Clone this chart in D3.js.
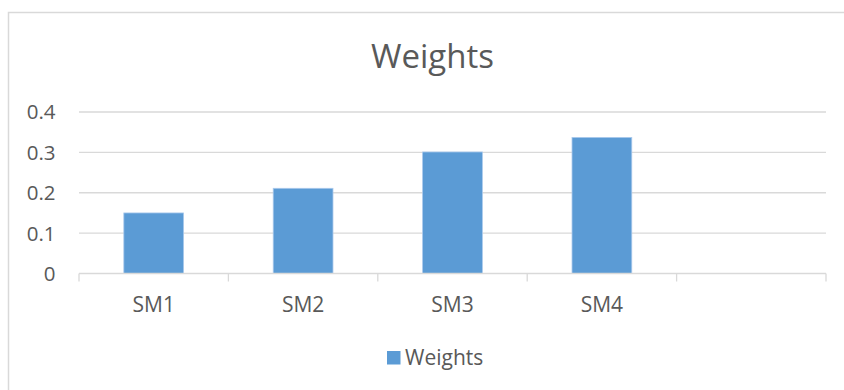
<!DOCTYPE html>
<html>
<head>
<meta charset="utf-8">
<script src="https://cdn.jsdelivr.net/npm/d3@7"></script>
<style>
  body { margin: 0; background: #fff; }
  text { font-family: "Open Sans", Lato, sans-serif; fill: #595959; }
</style>
</head>
<body>
<script>
// chart values
var categories = ["SM1", "SM2", "SM3", "SM4", ""];
var weights = [0.15, 0.211, 0.301, 0.337];
var yTicks = [0, 0.1, 0.2, 0.3, 0.4];
var seriesName = "Weights";
var chartTitle = "Weights";

var W = 844, H = 390;
var margin = {top: 112, right: 18, bottom: 116.5, left: 79},
    width = W - margin.left - margin.right,
    height = H - margin.top - margin.bottom;

var svg = d3.select("body").append("svg")
    .attr("width", W)
    .attr("height", H);

// outer chart frame (runs off the picture on the right and bottom)
svg.append("rect")
    .attr("x", 8.5).attr("y", 12.5)
    .attr("width", W + 20).attr("height", H + 20)
    .style("fill", "#fff")
    .style("stroke", "#d9d9d9")
    .style("stroke-width", 1.5);

svg.append("text")
    .attr("x", 432.5).attr("y", 68)
    .style("text-anchor", "middle")
    .style("font-size", "33px")
    .text(chartTitle);

var g = svg.append("g")
    .attr("transform", "translate(" + margin.left + "," + margin.top + ")");

var x = d3.scaleBand()
    .domain(categories.map(function(d, i) { return i; }))
    .range([0, width])
    .paddingInner(0.6)
    .paddingOuter(0.3);

var y = d3.scaleLinear()
    .domain([0, 0.4])
    .range([height, 0]);

// gridlines
g.selectAll(".grid")
    .data(yTicks.filter(function(d) { return d > 0; }))
  .enter().append("line")
    .attr("class", "grid")
    .attr("x1", 0).attr("x2", width)
    .attr("y1", function(d) { return y(d); })
    .attr("y2", function(d) { return y(d); })
    .style("stroke", "#d9d9d9")
    .style("stroke-width", 1.3);

// y labels
g.selectAll(".ylab")
    .data(yTicks)
  .enter().append("text")
    .attr("class", "ylab")
    .attr("x", -23.5)
    .attr("y", function(d) { return y(d); })
    .attr("dy", "0.36em")
    .style("text-anchor", "end")
    .style("font-size", "20.5px")
    .text(function(d) { return d === 0 ? "0" : d3.format(".1f")(d); });

// bars
g.selectAll(".bar")
    .data(weights)
  .enter().append("rect")
    .attr("class", "bar")
    .attr("x", function(d, i) { return x(i); })
    .attr("width", x.bandwidth())
    .attr("y", function(d) { return y(d); })
    .attr("height", function(d) { return height - y(d); })
    .style("fill", "#5b9bd5")
    .style("stroke", "#a9c9ec")
    .style("stroke-width", 0.8);

// x axis line and category dividers
var step = width / categories.length;
g.append("line")
    .attr("x1", 0).attr("x2", width)
    .attr("y1", height).attr("y2", height)
    .style("stroke", "#d9d9d9")
    .style("stroke-width", 1.3);

g.selectAll(".tick")
    .data(d3.range(categories.length + 1))
  .enter().append("line")
    .attr("class", "tick")
    .attr("x1", function(d) { return d * step; })
    .attr("x2", function(d) { return d * step; })
    .attr("y1", height).attr("y2", height + 8)
    .style("stroke", "#d9d9d9")
    .style("stroke-width", 1.3);

g.selectAll(".xlab")
    .data(categories)
  .enter().append("text")
    .attr("class", "xlab")
    .attr("x", function(d, i) { return x(i) + x.bandwidth() / 2; })
    .attr("y", height + 38.5)
    .style("text-anchor", "middle")
    .style("font-size", "21px")
    .text(function(d) { return d; });

// legend
var legend = svg.append("g")
    .attr("transform", "translate(387,351)");
legend.append("rect")
    .attr("width", 13.5).attr("height", 13.5)
    .style("fill", "#5b9bd5");
legend.append("text")
    .attr("x", 18).attr("y", 13.5)
    .style("font-size", "21px")
    .text(seriesName);
</script>
</body>
</html>
